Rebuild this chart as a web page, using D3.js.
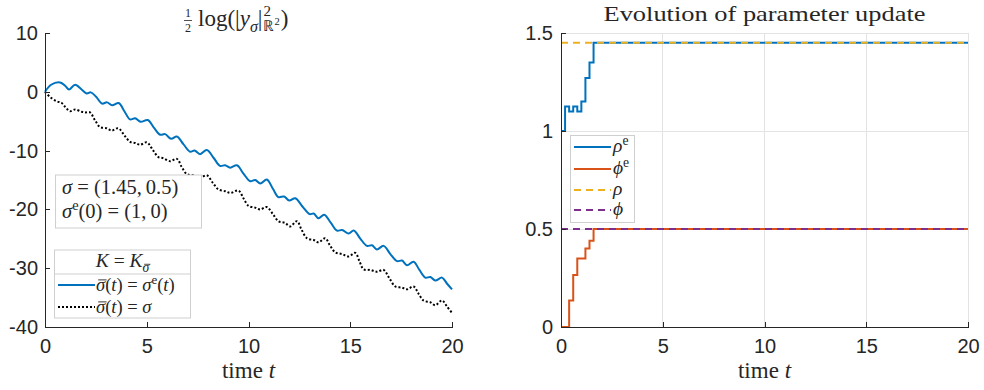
<!DOCTYPE html>
<html><head><meta charset="utf-8">
<script src="https://cdn.jsdelivr.net/npm/d3@7"></script>
<style>
body{margin:0;background:#fff}
svg text{fill:#262626}
.tick text{font-family:"Liberation Sans",Arial,sans-serif;font-size:20px}
.math{font-family:"Liberation Serif","Times New Roman",serif}
</style></head><body>
<svg id="fig" width="984" height="390"></svg>
<script>
// left panel: time samples and log-norm values
const tBlue = [0,0.3,0.74,1.0,1.18,1.48,1.8,2.05,2.25,2.5,2.8,3.05,3.3,3.62,3.9,4.18,4.43,4.7,5.05,5.35,5.66,5.9,6.2,6.48,6.8,7.13,7.35,7.62,7.95,8.3,8.6,8.85,9.1,9.43,9.75,10.08,10.33,10.58,10.9,11.2,11.47,11.75,12.0,12.3,12.65,13.0,13.2,13.44,13.72,14.05,14.35,14.6,14.92,15.17,15.5,15.82,16.07,16.31,16.64,16.97,17.3,17.54,17.79,18.11,18.4,18.69,18.94,19.18,19.51,19.75,20];
const yBlue = [0,1.2,1.6,1.0,0.4,1.2,0.4,-0.3,-0.1,-0.8,-2.0,-1.8,-2.3,-1.9,-3.3,-4.7,-4.5,-5.1,-4.8,-6.1,-7.3,-7.2,-8.0,-7.6,-8.9,-10.2,-10.0,-10.6,-9.9,-11.3,-12.6,-12.5,-12.9,-12.5,-13.9,-15.2,-15.0,-15.6,-14.9,-16.5,-17.9,-17.8,-18.5,-18.1,-19.5,-20.8,-20.7,-21.5,-20.9,-22.3,-23.6,-23.5,-24.1,-23.6,-25.0,-26.2,-26.1,-26.8,-26.2,-27.6,-28.8,-28.7,-29.5,-28.9,-30.3,-31.6,-31.5,-32.1,-31.6,-32.6,-33.6];
const tBlack = [0,0.25,0.57,0.82,1.05,1.23,1.48,1.8,2.0,2.21,2.45,2.7,3.03,3.28,3.6,3.9,4.18,4.43,4.67,5.0,5.3,5.57,5.82,6.15,6.48,6.72,6.97,7.3,7.62,7.95,8.25,8.52,8.85,9.1,9.51,9.75,10.0,10.33,10.58,10.9,11.2,11.47,11.8,12.05,12.38,12.6,12.87,13.2,13.44,13.77,14.0,14.26,14.6,14.92,15.25,15.45,15.66,15.99,16.31,16.64,16.92,17.21,17.54,17.79,18.11,18.35,18.6,18.94,19.18,19.51,19.75,20];
const yBlack = [0,-0.9,-1.6,-1.9,-2.8,-3.3,-3.0,-3.4,-3.5,-3.5,-4.8,-6.0,-6.2,-6.6,-6.2,-7.4,-8.5,-8.7,-9.0,-8.6,-9.9,-11.1,-11.3,-11.8,-11.4,-12.8,-14.0,-14.2,-14.6,-14.2,-15.5,-16.6,-16.9,-17.2,-16.8,-18.1,-19.4,-19.7,-20.0,-19.6,-20.8,-22.0,-22.3,-22.9,-22.0,-23.4,-24.9,-25.2,-25.6,-24.9,-26.1,-27.3,-27.6,-28.0,-27.4,-28.8,-30.2,-30.3,-30.6,-30.3,-31.7,-33.1,-33.3,-33.6,-33.1,-34.3,-35.5,-35.8,-36.3,-35.5,-36.5,-37.6];

// right panel: parameter estimates (piecewise constant)
const tRho = [0,0.2,0.4,0.6,0.8,1.0,1.2,1.4,1.6,20];
const rhoE = [1,1.125,1.1,1.125,1.1,1.15,1.27,1.35,1.45,1.45];
const tPhi = [0,0.4,0.6,0.8,1.2,1.4,1.6,20];
const phiE = [0,0.135,0.265,0.35,0.4,0.44,0.5,0.5];
const rhoTrue = 1.45, phiTrue = 0.5;

const xTicks = [0,5,10,15,20];
const yTicksL = [-40,-30,-20,-10,0,10];
const yTicksR = [0,0.5,1,1.5];

const C = {blue:'#0072BD', orange:'#D95319', yellow:'#EDB120', purple:'#7E2F8E', axis:'#262626', grid:'#e3e3e3', box:'#cfcfcf'};
const svg = d3.select('#fig');
const yTop = 33, yBot = 327;

// rich text helper: segments with italic / sup / sub / overline
function rich(g, x, y, size, segs, anchor) {
  const txt = g.append('text').attr('class','math').attr('x',x).attr('y',y)
      .style('font-size',size+'px').attr('text-anchor',anchor||'start');
  let cur = 0, idx = 0;
  const bars = [];
  segs.forEach(s => {
    if (typeof s === 'string') s = {t:s};
    const sh = s.sup ? -0.38*size : s.sub ? 0.28*size : 0;
    const fs = (s.sup || s.sub) ? size*0.7 : size;
    const ts = txt.append('tspan').text(s.t).attr('dy', sh-cur);
    cur = sh;
    if (s.sup || s.sub) ts.style('font-size',fs+'px');
    if (s.it) ts.style('font-style','italic');
    if (s.ov) bars.push({i:idx, n:s.t.length, fs:fs});
    idx += s.t.length;
  });
  const node = txt.node();
  bars.forEach(b => {
    const p0 = node.getStartPositionOfChar(b.i), p1 = node.getEndPositionOfChar(b.i+b.n-1);
    g.append('line').attr('x1',p0.x+0.12*b.fs).attr('x2',p1.x+0.08*b.fs)
        .attr('y1',p0.y-0.6*b.fs).attr('y2',p0.y-0.6*b.fs)
        .attr('stroke',C.axis).attr('stroke-width',Math.max(0.8,b.fs*0.05));
  });
  return txt;
}

function styleAxis(g) {
  g.select('.domain').attr('stroke',C.axis);
  g.selectAll('.tick line').attr('stroke',C.axis);
  g.selectAll('.tick text').attr('fill',C.axis);
  g.attr('shape-rendering','crispEdges');
}

// ---------- left panel ----------
const xL = d3.scaleLinear().domain([0,20]).range([45,452]);
const yL = d3.scaleLinear().domain([-40,10]).range([yBot,yTop]);

const line = d3.line().x(d => xL(d[0])).y(d => yL(d[1])).curve(d3.curveCatmullRom);
svg.append('path').datum(tBlack.map((t,i) => [t,yBlack[i]]))
    .attr('d',line).attr('fill','none').attr('stroke','#000')
    .attr('stroke-width',2).attr('stroke-dasharray','2,2');
svg.append('path').datum(tBlue.map((t,i) => [t,yBlue[i]]))
    .attr('d',line).attr('fill','none').attr('stroke',C.blue).attr('stroke-width',2);

svg.append('g').attr('transform',`translate(0,${yBot})`)
    .call(d3.axisBottom(xL).tickValues(xTicks).tickFormat(d => String(d)).tickSizeInner(-5).tickSizeOuter(0).tickPadding(12))
    .call(styleAxis);
svg.append('g').attr('transform','translate(45,0)')
    .call(d3.axisLeft(yL).tickValues(yTicksL).tickFormat(d => String(d)).tickSizeInner(-5).tickSizeOuter(0).tickPadding(7))
    .call(styleAxis);

// title 1/2 log(|y_sigma|^2_R2)
const tg = svg.append('g');
tg.append('text').attr('class','math').attr('x',188).attr('y',16.5).attr('text-anchor','middle').style('font-size','12px').text('1');
tg.append('line').attr('x1',184).attr('x2',192).attr('y1',20.5).attr('y2',20.5).attr('stroke',C.axis).attr('stroke-width',0.8);
tg.append('text').attr('class','math').attr('x',188).attr('y',32).attr('text-anchor','middle').style('font-size','12px').text('2');
const main = rich(tg, 198, 26, 23, ['log(|', {t:'y',it:true}, {t:'σ',it:true,sub:true}, {t:'|'}]);
let xs = 198 + main.node().getComputedTextLength() + 1;
tg.append('text').attr('class','math').attr('x',xs).attr('y',16).style('font-size','15px').text('2');
const rr = rich(tg, xs, 31, 15, ['ℝ', {t:'2',sup:true}]);
xs += rr.node().getComputedTextLength() + 1;
rich(tg, xs, 26, 23, [')']);

rich(svg, xL(10), 378, 23, ['time ', {t:'t',it:true}], 'middle');

// parameter text box
svg.append('rect').attr('x',55.5).attr('y',175).attr('width',146).attr('height',53)
    .attr('fill','#fff').attr('stroke',C.box);
rich(svg, 62, 194, 20.5, [{t:'σ',it:true}, ' = (1.45,\u20090.5)']);
rich(svg, 62, 218, 20.5, [{t:'σ',it:true}, {t:'e',sup:true}, '(0) = (1,\u20090)']);

// legend
const lg = svg.append('g');
lg.append('rect').attr('x',54.5).attr('y',250).attr('width',136).attr('height',68)
    .attr('fill','#fff').attr('stroke',C.box);
lg.append('line').attr('x1',54.5).attr('x2',190.5).attr('y1',274).attr('y2',274).attr('stroke',C.box);
rich(lg, 122.5, 267, 19.5, [{t:'K',it:true}, ' = ', {t:'K',it:true}, {t:'σ',it:true,sub:true,ov:true}], 'middle');
lg.append('line').attr('x1',58).attr('x2',95).attr('y1',285).attr('y2',285).attr('stroke',C.blue).attr('stroke-width',2);
rich(lg, 96, 291, 18.5, [{t:'σ',it:true,ov:true}, '(', {t:'t',it:true}, ') = ', {t:'σ',it:true}, {t:'e',sup:true}, '(', {t:'t',it:true}, ')']);
lg.append('line').attr('x1',58).attr('x2',95).attr('y1',307).attr('y2',307).attr('stroke','#000').attr('stroke-width',2).attr('stroke-dasharray','2,2');
rich(lg, 96, 313, 18.5, [{t:'σ',it:true,ov:true}, '(', {t:'t',it:true}, ') = ', {t:'σ',it:true}]);

// ---------- right panel ----------
const xR = d3.scaleLinear().domain([0,20]).range([561,968]);
const yR = d3.scaleLinear().domain([0,1.5]).range([yBot,yTop]);

const grid = svg.append('g').attr('shape-rendering','crispEdges');
grid.selectAll('.gx').data(xTicks).enter().append('line')
    .attr('x1',d => xR(d)).attr('x2',d => xR(d)).attr('y1',yTop).attr('y2',yBot)
    .attr('stroke',C.grid);
grid.selectAll('.gy').data(yTicksR).enter().append('line')
    .attr('y1',d => yR(d)).attr('y2',d => yR(d)).attr('x1',561).attr('x2',968)
    .attr('stroke',C.grid);

const step = d3.line().x(d => xR(d[0])).y(d => yR(d[1])).curve(d3.curveStepAfter);
svg.append('path').datum(tRho.map((t,i) => [t,rhoE[i]]))
    .attr('d',step).attr('fill','none').attr('stroke',C.blue).attr('stroke-width',2);
svg.append('path').datum(tPhi.map((t,i) => [t,phiE[i]]))
    .attr('d',step).attr('fill','none').attr('stroke',C.orange).attr('stroke-width',2);
svg.append('path').datum([[0,rhoTrue],[20,rhoTrue]])
    .attr('d',step).attr('fill','none').attr('stroke',C.yellow).attr('stroke-width',2).attr('stroke-dasharray','7,5');
svg.append('path').datum([[0,phiTrue],[20,phiTrue]])
    .attr('d',step).attr('fill','none').attr('stroke',C.purple).attr('stroke-width',2).attr('stroke-dasharray','7,5');

svg.append('g').attr('transform',`translate(0,${yBot})`)
    .call(d3.axisBottom(xR).tickValues(xTicks).tickFormat(d => String(d)).tickSizeInner(-5).tickSizeOuter(0).tickPadding(12))
    .call(styleAxis);
svg.append('g').attr('transform','translate(561,0)')
    .call(d3.axisLeft(yR).tickValues(yTicksR).tickFormat(d => String(d)).tickSizeInner(-5).tickSizeOuter(0).tickPadding(8))
    .call(styleAxis);

svg.append('text').attr('class','math').attr('x',xR(10)).attr('y',21)
    .attr('text-anchor','middle').style('font-size','22px')
    .attr('textLength',322).attr('lengthAdjust','spacingAndGlyphs')
    .text('Evolution of parameter update');
rich(svg, xR(10), 378, 23, ['time ', {t:'t',it:true}], 'middle');

// right legend
const rl = svg.append('g');
rl.append('rect').attr('x',570.5).attr('y',135.5).attr('width',64).attr('height',87)
    .attr('fill','#fff').attr('stroke',C.box);
const entries = [
  {c:C.blue, dash:null, y:147, segs:[{t:'ρ',it:true},{t:'e',sup:true}]},
  {c:C.orange, dash:null, y:169, segs:[{t:'ϕ',it:true},{t:'e',sup:true}]},
  {c:C.yellow, dash:'7,5', y:190, segs:[{t:'ρ',it:true}]},
  {c:C.purple, dash:'7,5', y:210, segs:[{t:'ϕ',it:true}]}
];
entries.forEach(e => {
  rl.append('line').attr('x1',574).attr('x2',611).attr('y1',e.y).attr('y2',e.y)
      .attr('stroke',e.c).attr('stroke-width',2).attr('stroke-dasharray',e.dash);
  rich(rl, 613, e.y+5, 19.5, e.segs);
});
</script>
</body></html>
